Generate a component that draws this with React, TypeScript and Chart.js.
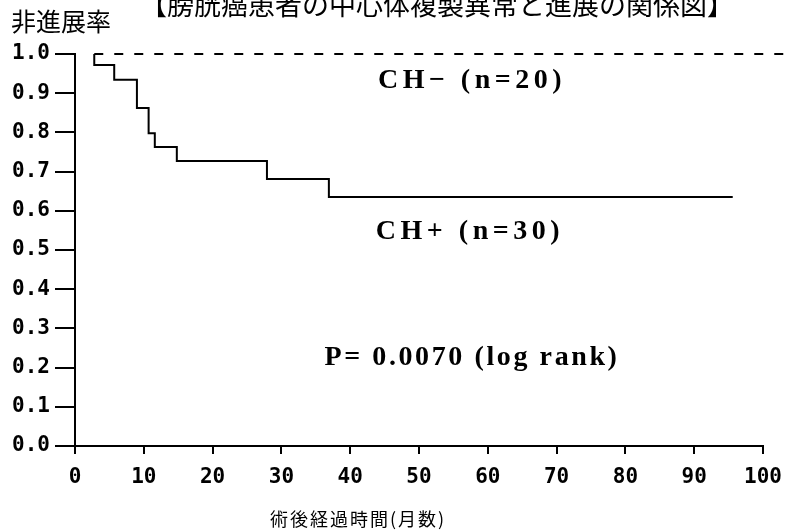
import { useEffect, useRef } from "react";
import { Chart, registerables } from "chart.js";

Chart.register(...registerables);

const TITLE = "【膀胱癌患者の中心体複製異常と進展の関係図】";
const Y_TITLE = "非進展率";
const X_TITLE = "術後経過時間(月数)";

// CH+ (n=30) Kaplan–Meier steps: month of each point, survival after it
const chPlusMonths = [2.8, 2.8, 5.7, 9.0, 10.7, 11.6, 14.8, 27.9, 36.9, 95.6];
const chPlusSurvival = [1.0, 0.972, 0.934, 0.862, 0.798, 0.763, 0.727, 0.681, 0.635, 0.635];

// CH- (n=20): no events
const chMinusMonths = [2.8, 103.8];
const chMinusSurvival = [1.0, 1.0];

const xTickValues = [0, 10, 20, 30, 40, 50, 60, 70, 80, 90, 100];
const yTickValues = [0, 0.1, 0.2, 0.3, 0.4, 0.5, 0.6, 0.7, 0.8, 0.9, 1.0];

const annotationTexts = ["CH\u2212 (n=20)", "CH+ (n=30)", "P= 0.0070 (log rank)"];
const annotationX = [57.7, 57.4, 57.7];
const annotationY = [0.931, 0.546, 0.224];
const annotationSpacing = [4.5, 4.5, 2.6];

const textPlugin = {
  id: "texts",
  afterDraw(chart: any) {
    const ctx = chart.ctx as CanvasRenderingContext2D;
    const xs = chart.scales.x;
    const ys = chart.scales.y;
    ctx.save();
    ctx.fillStyle = "#000";
    // title (partly cut at top)
    ctx.font = '27px "Noto Sans CJK JP"';
    ctx.textAlign = "center";
    ctx.textBaseline = "alphabetic";
    ctx.fillText(TITLE, 437, 15);
    // y title
    ctx.font = '25px "Noto Sans CJK JP"';
    ctx.textAlign = "left";
    ctx.fillText(Y_TITLE, 11, 31);
    // x title
    ctx.font = '18px "Noto Sans CJK JP"';
    (ctx as any).letterSpacing = "2px";
    ctx.textAlign = "center";
    ctx.fillText(X_TITLE, 358, 526);
    // annotations
    ctx.font = 'bold 28px "Liberation Serif"';
    ctx.textBaseline = "middle";
    for (let i = 0; i < annotationTexts.length; i++) {
      (ctx as any).letterSpacing = annotationSpacing[i] + "px";
      ctx.fillText(
        annotationTexts[i],
        xs.getPixelForValue(annotationX[i]),
        ys.getPixelForValue(annotationY[i])
      );
    }
    ctx.restore();
  },
};

export default function App() {
  const ref = useRef<HTMLCanvasElement>(null);
  useEffect(() => {
    if (!ref.current) return;
    const chart = new Chart(ref.current, {
      type: "line",
      data: {
        datasets: [
          {
            label: "CH-",
            data: chMinusMonths.map((m, i) => ({ x: m, y: chMinusSurvival[i] })),
            borderColor: "#000",
            borderWidth: 2,
            borderDash: [9, 11],
            pointRadius: 0,
            fill: false,
            clip: false as any,
          },
          {
            label: "CH+",
            data: chPlusMonths.map((m, i) => ({ x: m, y: chPlusSurvival[i] })),
            borderColor: "#000",
            borderWidth: 2,
            stepped: "before",
            pointRadius: 0,
            fill: false,
          },
        ],
      },
      options: {
        animation: false,
        responsive: true,
        maintainAspectRatio: false,
        layout: { padding: { top: 54, right: 26, left: 0, bottom: 0 } },
        plugins: { legend: { display: false }, tooltip: { enabled: false }, title: { display: false } },
        scales: {
          x: {
            type: "linear",
            min: 0,
            max: 100,
            afterBuildTicks: (s: any) => {
              s.ticks = xTickValues.map((v) => ({ value: v }));
            },
            afterFit: (s: any) => {
              s.height = 84;
              s.paddingLeft = 0;
              s.paddingRight = 0;
            },
            ticks: {
              color: "#000",
              font: { family: "DejaVu Sans Mono", size: 21, weight: "bold" },
              padding: 11,
              maxRotation: 0,
              autoSkip: false,
            },
            grid: { drawOnChartArea: false, color: "#000", lineWidth: 2, tickLength: 8 },
            border: { color: "#000", width: 2 },
          },
          y: {
            type: "linear",
            min: 0,
            max: 1,
            afterBuildTicks: (s: any) => {
              s.ticks = yTickValues.map((v) => ({ value: v }));
            },
            afterFit: (s: any) => {
              s.width = 75;
              s.paddingTop = 0;
              s.paddingBottom = 0;
            },
            ticks: {
              color: "#000",
              font: { family: "DejaVu Sans Mono", size: 21, weight: "bold" },
              padding: 5,
              autoSkip: false,
              callback: (v: any) => Number(v).toFixed(1),
            },
            grid: { drawOnChartArea: false, color: "#000", lineWidth: 2, tickLength: 20 },
            border: { color: "#000", width: 2 },
          },
        },
      },
      plugins: [textPlugin],
    } as any);
    return () => chart.destroy();
  }, []);
  return (
    <div style={{ position: "absolute", left: 0, top: 0, width: 789, height: 530, background: "#fff" }}>
      <canvas ref={ref} />
    </div>
  );
}
